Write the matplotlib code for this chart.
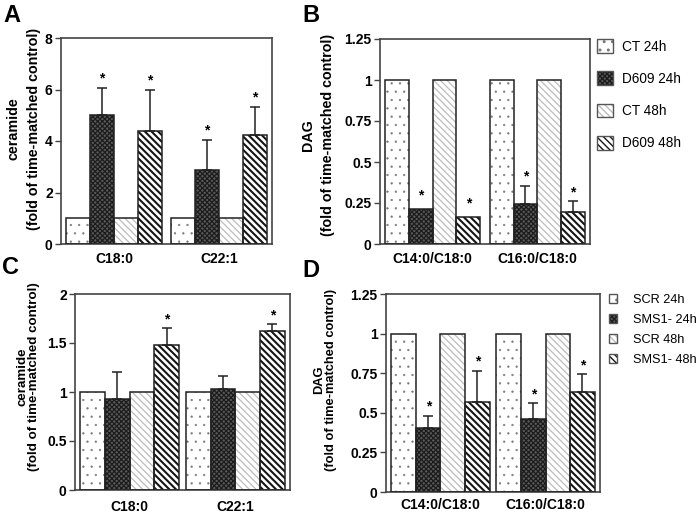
import numpy as np
import matplotlib.pyplot as plt
from matplotlib.legend_handler import HandlerTuple

plt.rcParams['font.family'] = ['Liberation Sans', 'DejaVu Sans']
plt.rcParams['font.weight'] = 'bold'
plt.rcParams['hatch.linewidth'] = 1.0

W, H = 700, 514

cer_species = ['C18:0', 'C22:1']
dag_species = ['C14:0/C18:0', 'C16:0/C18:0']
d609_groups = ['CT 24h', 'D609 24h', 'CT 48h', 'D609 48h']
sms_groups = ['SCR 24h', 'SMS1- 24h', 'SCR 48h', 'SMS1- 48h']

# one row per group, one column per species
a_mean = [[1.0, 1.0], [5.0, 2.89], [1.0, 1.0], [4.37, 4.25]]
a_err = [[0, 0], [1.06, 1.16], [0, 0], [1.62, 1.07]]
a_star = [[0, 0], [1, 1], [0, 0], [1, 1]]

b_mean = [[1.0, 1.0], [0.213, 0.244], [1.0, 1.0], [0.163, 0.193]]
b_err = [[0, 0], [0, 0.112], [0, 0], [0, 0.067]]
b_star = [[0, 0], [1, 1], [0, 0], [1, 1]]

c_mean = [[1.0, 1.0], [0.93, 1.03], [1.0, 1.0], [1.48, 1.625]]
c_err = [[0, 0], [0.27, 0.135], [0, 0], [0.17, 0.065]]
c_star = [[0, 0], [0, 0], [0, 0], [1, 1]]

d_mean = [[1.0, 1.0], [0.407, 0.462], [1.0, 1.0], [0.566, 0.631]]
d_err = [[0, 0], [0.073, 0.099], [0, 0], [0.201, 0.111]]
d_star = [[0, 0], [1, 1], [0, 0], [1, 1]]

styles = [
    dict(face='white', hatch='..', hcol='#7a7a7a', hlw=0.4),
    dict(face='#5a5a5a', hatch='xxxxxxx', hcol='#1c1c1c', hlw=0.9),
    dict(face='white', hatch='\\\\\\\\\\', hcol='#bdbdbd', hlw=0.9),
    dict(face='white', hatch='\\\\\\\\\\', hcol='#151515', hlw=1.5),
]
edge = '#222222'


def px_rect(left, top, right, bottom):
    return [left / W, 1 - bottom / H, (right - left) / W, (bottom - top) / H]


def set_hlw(patch, lw):
    if hasattr(patch, 'set_hatch_linewidth'):
        patch.set_hatch_linewidth(lw)


def panel(ax, species, means, errs, stars, ylim, yticks, yticklabels, gap, xpad):
    n = len(means)
    x0 = np.arange(len(species)) * (n + gap)
    for i, st in enumerate(styles):
        x = x0 + i
        m = np.array(means[i], dtype=float)
        e = np.array(errs[i], dtype=float)
        bars = ax.bar(x, m, width=1, color=st['face'], hatch=st['hatch'],
                      edgecolor=st['hcol'], lw=0, zorder=2)
        for p in bars:
            set_hlw(p, st['hlw'])
        ax.bar(x, m, width=1, fill=False, edgecolor=edge, lw=1.1, zorder=3)
        sel = e > 0
        if sel.any():
            ax.errorbar(x[sel], m[sel], yerr=[np.zeros(sel.sum()), e[sel]],
                        fmt='none', ecolor=edge, elinewidth=1.1, capsize=3.5,
                        capthick=1.1, zorder=4)
        for xi, mi, ei, s in zip(x, m, e, stars[i]):
            if s:
                ax.annotate('*', (xi, mi + ei), xytext=(0, 1.5 if ei > 0 else 5),
                            textcoords='offset points', ha='center', va='bottom',
                            fontsize=10, fontweight='bold')
    ax.set_xlim(-0.5 - 0.22, x0[-1] + n - 0.5 + 0.22)
    ax.set_ylim(*ylim)
    ax.set_yticks(yticks)
    ax.set_yticklabels(yticklabels, fontsize=10, fontweight='bold')
    ax.set_xticks(x0 + (n - 1) / 2)
    ax.set_xticklabels(species, fontsize=10, fontweight='bold')
    ax.tick_params(axis='x', length=0, pad=xpad)
    ax.tick_params(axis='y', direction='out', length=4, width=1, color='#444444', pad=2)
    for s in ax.spines.values():
        s.set_color('#444444')
        s.set_linewidth(1.2)


def add_legend(ax, labels, bbox, hl, hh, tp, ls, fs):
    handles = []
    for st in styles:
        hp = plt.Rectangle((0, 0), 1, 1, facecolor=st['face'], hatch=st['hatch'],
                           edgecolor=st['hcol'], lw=0)
        set_hlw(hp, st['hlw'])
        op = plt.Rectangle((0, 0), 1, 1, fill=False, edgecolor='#555555', lw=1)
        handles.append((hp, op))
    leg = ax.legend(handles, labels, handler_map={tuple: HandlerTuple(ndivide=1, pad=0)},
                    loc='upper left', bbox_to_anchor=bbox,
                    bbox_transform=ax.figure.transFigure,
                    frameon=False, borderaxespad=0, borderpad=0, handlelength=hl,
                    handleheight=hh, handletextpad=tp, labelspacing=ls,
                    prop={'size': fs, 'weight': 'normal'})
    return leg


fig = plt.figure(figsize=(7.0, 5.14), dpi=100)

axA = fig.add_axes(px_rect(61, 38, 272, 244))
panel(axA, cer_species, a_mean, a_err, a_star, (0, 8), [0, 2, 4, 6, 8],
      ['0', '2', '4', '6', '8'], 0.4, 5.5)

axB = fig.add_axes(px_rect(380, 39, 590, 244))
panel(axB, dag_species, b_mean, b_err, b_star, (0, 1.25), [0, 0.25, 0.5, 0.75, 1, 1.25],
      ['0', '0.25', '0.5', '0.75', '1', '1.25'], 0.4, 5.5)
add_legend(axB, d609_groups, (597 / W, 1 - 39 / H), 1.2, 1.2, 0.65, 1.3, 9.8)

axC = fig.add_axes(px_rect(75, 294, 290, 490))
panel(axC, cer_species, c_mean, c_err, c_star, (0, 2), [0, 0.5, 1, 1.5, 2],
      ['0', '0.5', '1', '1.5', '2'], 0.28, 7.5)

axD = fig.add_axes(px_rect(386, 294, 600, 492))
panel(axD, dag_species, d_mean, d_err, d_star, (0, 1.25), [0, 0.25, 0.5, 0.75, 1, 1.25],
      ['0', '0.25', '0.5', '0.75', '1', '1.25'], 0.28, 4)
add_legend(axD, sms_groups, (609 / W, 1 - 294 / H), 0.65, 0.65, 1.2, 0.62, 9.2)

ylab = [('ceramide\n(fold of time-matched control)', 24, 129, 10.3, 1.6),
        ('DAG\n(fold of time-matched control)', 318, 135, 10.3, 1.6),
        ('ceramide\n(fold of time-matched control)', 28, 377, 9.6, 0.95),
        ('DAG\n(fold of time-matched control)', 325, 380, 9.3, 0.95)]
for txt, x, y, fs, lsp in ylab:
    fig.text(x / W, 1 - y / H, txt, rotation=90, ha='center', va='center',
             multialignment='center', fontsize=fs, fontweight='bold', linespacing=lsp)

for letter, x, y in [('A', 3, 4), ('B', 302, 4), ('C', 2, 256), ('D', 302, 259)]:
    fig.text(x / W, 1 - y / H, letter, ha='left', va='top', fontsize=17, fontweight='bold')

fig.savefig('out.png', dpi=100)
